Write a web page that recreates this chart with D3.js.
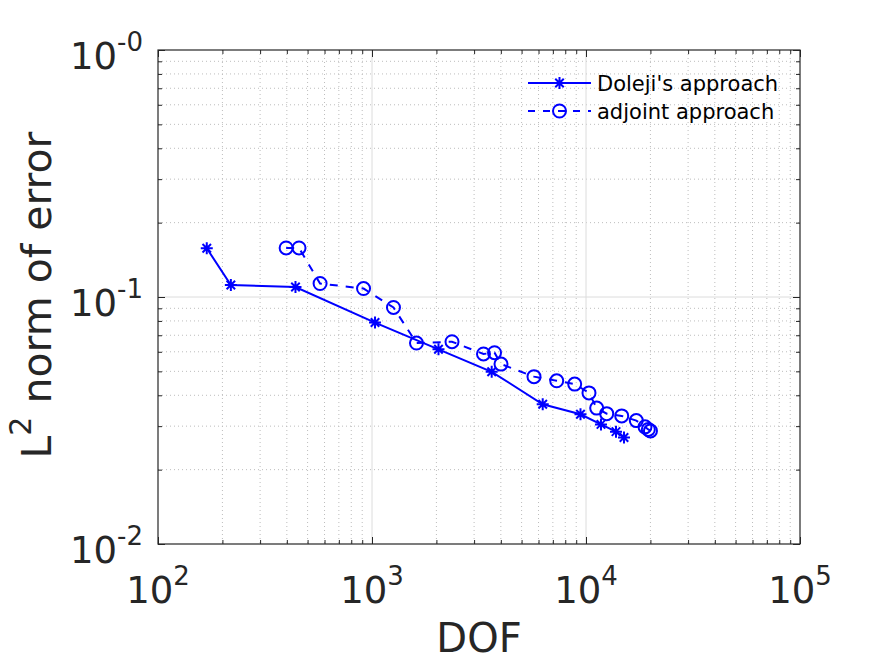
<!DOCTYPE html>
<html>
<head>
<meta charset="utf-8">
<script src="https://cdn.jsdelivr.net/npm/d3@7/dist/d3.min.js"></script>
<style>
  html, body { margin: 0; padding: 0; background: #fff; }
  svg { display: block; font-family: "DejaVu Sans", sans-serif; }
</style>
</head>
<body>
<svg id="chart" width="884" height="663"></svg>
<script>
// ---- data ----
const dolejiDOF = [169, 219, 439, 1033, 2045, 3625, 6276, 9425, 11750, 13810, 15050];
const dolejiErr = [0.1575, 0.1118, 0.1098, 0.0788, 0.0614, 0.0498, 0.0368, 0.0335, 0.0305, 0.0285, 0.0270];

const adjointDOF = [397, 456, 572, 913, 1260, 1614, 2365, 3319, 3737, 4007, 5715, 7297, 8855, 10327, 11220, 12497, 14685, 17180, 18870, 19550, 20010];
const adjointErr = [0.158, 0.158, 0.1134, 0.1082, 0.0907, 0.0651, 0.0659, 0.0588, 0.0595, 0.0535, 0.0476, 0.0458, 0.0444, 0.0409, 0.0355, 0.0337, 0.0330, 0.0316, 0.0298, 0.0291, 0.0287];

const xTicks = [1e2, 1e3, 1e4, 1e5];
const xTickExp = ["2", "3", "4", "5"];
const yTicks = [1e-2, 1e-1, 1e0];
const yTickExp = ["-2", "-1", "-0"];

const seriesNames = ["Doleji's approach", "adjoint approach"];
const xLabel = "DOF";
const yLabelMain = "L";
const yLabelSup = "2";
const yLabelRest = " norm of error";

// ---- layout ----
const L = 158, R = 800, T = 50, B = 544;
const ink = "#262626";
const blue = "#0000ff";

const svg = d3.select("#chart");
const x = d3.scaleLog().domain([1e2, 1e5]).range([L, R]);
const y = d3.scaleLog().domain([1e-2, 1e0]).range([B, T]);

// minor values
const xMinor = [];
for (let d = 2; d < 5; d++) for (let m = 2; m <= 9; m++) xMinor.push(m * Math.pow(10, d));
const yMinor = [];
for (let d = -2; d < 0; d++) for (let m = 2; m <= 9; m++) yMinor.push(m * Math.pow(10, d));

const grid = svg.append("g");
// minor grid (dotted)
grid.selectAll(".xm").data(xMinor).join("line")
  .attr("x1", d => x(d)).attr("x2", d => x(d)).attr("y1", T).attr("y2", B)
  .attr("stroke", "#bdbdbd").attr("stroke-width", 1).attr("stroke-dasharray", "1,3");
grid.selectAll(".ym").data(yMinor).join("line")
  .attr("y1", d => y(d)).attr("y2", d => y(d)).attr("x1", L).attr("x2", R)
  .attr("stroke", "#bdbdbd").attr("stroke-width", 1).attr("stroke-dasharray", "1,3");
// major grid
grid.selectAll(".xM").data(xTicks.slice(1, -1)).join("line")
  .attr("x1", d => x(d)).attr("x2", d => x(d)).attr("y1", T).attr("y2", B)
  .attr("stroke", "#dcdcdc").attr("stroke-width", 1);
grid.selectAll(".yM").data(yTicks.slice(1, -1)).join("line")
  .attr("y1", d => y(d)).attr("y2", d => y(d)).attr("x1", L).attr("x2", R)
  .attr("stroke", "#dcdcdc").attr("stroke-width", 1);

// ---- axes with D3 axis generators (ticks inward, no labels) ----
function axisGroup(gen, tx, ty) {
  const g = svg.append("g").attr("transform", `translate(${tx},${ty})`).call(gen);
  g.select(".domain").remove();
  g.selectAll("text").remove();
  g.selectAll("line").attr("stroke", ink);
  return g;
}
const majLen = 7, minLen = 4;
axisGroup(d3.axisBottom(x).tickValues(xTicks).tickSize(-majLen), 0, B);
axisGroup(d3.axisBottom(x).tickValues(xMinor).tickSize(-minLen), 0, B);
axisGroup(d3.axisTop(x).tickValues(xTicks).tickSize(-majLen), 0, T);
axisGroup(d3.axisTop(x).tickValues(xMinor).tickSize(-minLen), 0, T);
axisGroup(d3.axisLeft(y).tickValues(yTicks).tickSize(-majLen), L, 0);
axisGroup(d3.axisLeft(y).tickValues(yMinor).tickSize(-minLen), L, 0);
axisGroup(d3.axisRight(y).tickValues(yTicks).tickSize(-majLen), R, 0);
axisGroup(d3.axisRight(y).tickValues(yMinor).tickSize(-minLen), R, 0);

// frame
svg.append("rect").attr("x", L).attr("y", T).attr("width", R - L).attr("height", B - T)
  .attr("fill", "none").attr("stroke", ink).attr("stroke-width", 1.2);

// ---- tick labels ----
const tickFs = 37, supFs = 26;
xTicks.forEach((v, i) => {
  const t = svg.append("text").attr("x", x(v)).attr("y", B + 59)
    .attr("text-anchor", "middle").attr("fill", ink).attr("font-size", tickFs);
  t.append("tspan").text("10");
  t.append("tspan").attr("font-size", supFs).attr("dy", -18).text(xTickExp[i]);
});
yTicks.forEach((v, i) => {
  const t = svg.append("text").attr("x", 143).attr("y", y(v) + 19)
    .attr("text-anchor", "end").attr("fill", ink).attr("font-size", tickFs);
  t.append("tspan").text("10");
  t.append("tspan").attr("font-size", supFs).attr("dy", -18).text(yTickExp[i]);
});

// ---- axis labels ----
svg.append("text").attr("x", (L + R) / 2).attr("y", 652).attr("text-anchor", "middle")
  .attr("fill", ink).attr("font-size", 40).text(xLabel);
const yl = svg.append("text")
  .attr("transform", `translate(51,${(T + B) / 2 - 2}) rotate(-90)`)
  .attr("text-anchor", "middle").attr("fill", ink).attr("font-size", 41);
yl.append("tspan").text(yLabelMain);
yl.append("tspan").attr("font-size", 30).attr("dy", -20).text(yLabelSup);
yl.append("tspan").attr("dy", 20).text(yLabelRest);

// ---- markers ----
function starPath(r) {
  const a = r * Math.SQRT1_2;
  return `M${-r},0L${r},0M0,${-r}L0,${r}M${-a},${-a}L${a},${a}M${-a},${a}L${a},${-a}`;
}

const dolejiData = dolejiDOF.map((d, i) => [d, dolejiErr[i]]);
const adjointData = adjointDOF.map((d, i) => [d, adjointErr[i]]);
const line = d3.line().x(d => x(d[0])).y(d => y(d[1]));

const plot = svg.append("g");
plot.append("path").datum(dolejiData).attr("d", line)
  .attr("fill", "none").attr("stroke", blue).attr("stroke-width", 2);
plot.selectAll(".star").data(dolejiData).join("path")
  .attr("transform", d => `translate(${x(d[0])},${y(d[1])})`)
  .attr("d", starPath(6)).attr("fill", "none").attr("stroke", blue).attr("stroke-width", 2);

plot.append("path").datum(adjointData).attr("d", line)
  .attr("fill", "none").attr("stroke", blue).attr("stroke-width", 2).attr("stroke-dasharray", "8,8");
plot.selectAll(".circ").data(adjointData).join("circle")
  .attr("cx", d => x(d[0])).attr("cy", d => y(d[1])).attr("r", 6.5)
  .attr("fill", "none").attr("stroke", blue).attr("stroke-width", 2);

// ---- legend ----
const leg = svg.append("g");
const legRows = [83, 111];
const lx1 = 528, lx2 = 591, lmx = 559.5;
leg.append("line").attr("x1", lx1).attr("x2", lx2).attr("y1", legRows[0]).attr("y2", legRows[0])
  .attr("stroke", blue).attr("stroke-width", 2);
leg.append("path").attr("transform", `translate(${lmx},${legRows[0]})`).attr("d", starPath(6))
  .attr("fill", "none").attr("stroke", blue).attr("stroke-width", 2);
leg.append("line").attr("x1", lx1).attr("x2", lx2).attr("y1", legRows[1]).attr("y2", legRows[1])
  .attr("stroke", blue).attr("stroke-width", 2).attr("stroke-dasharray", "7,8");
leg.append("circle").attr("cx", lmx).attr("cy", legRows[1]).attr("r", 6.5)
  .attr("fill", "none").attr("stroke", blue).attr("stroke-width", 2);
seriesNames.forEach((s, i) => {
  leg.append("text").attr("x", 597).attr("y", legRows[i] + 8).attr("font-size", 21)
    .attr("fill", "#000").text(s);
});
</script>
</body>
</html>
